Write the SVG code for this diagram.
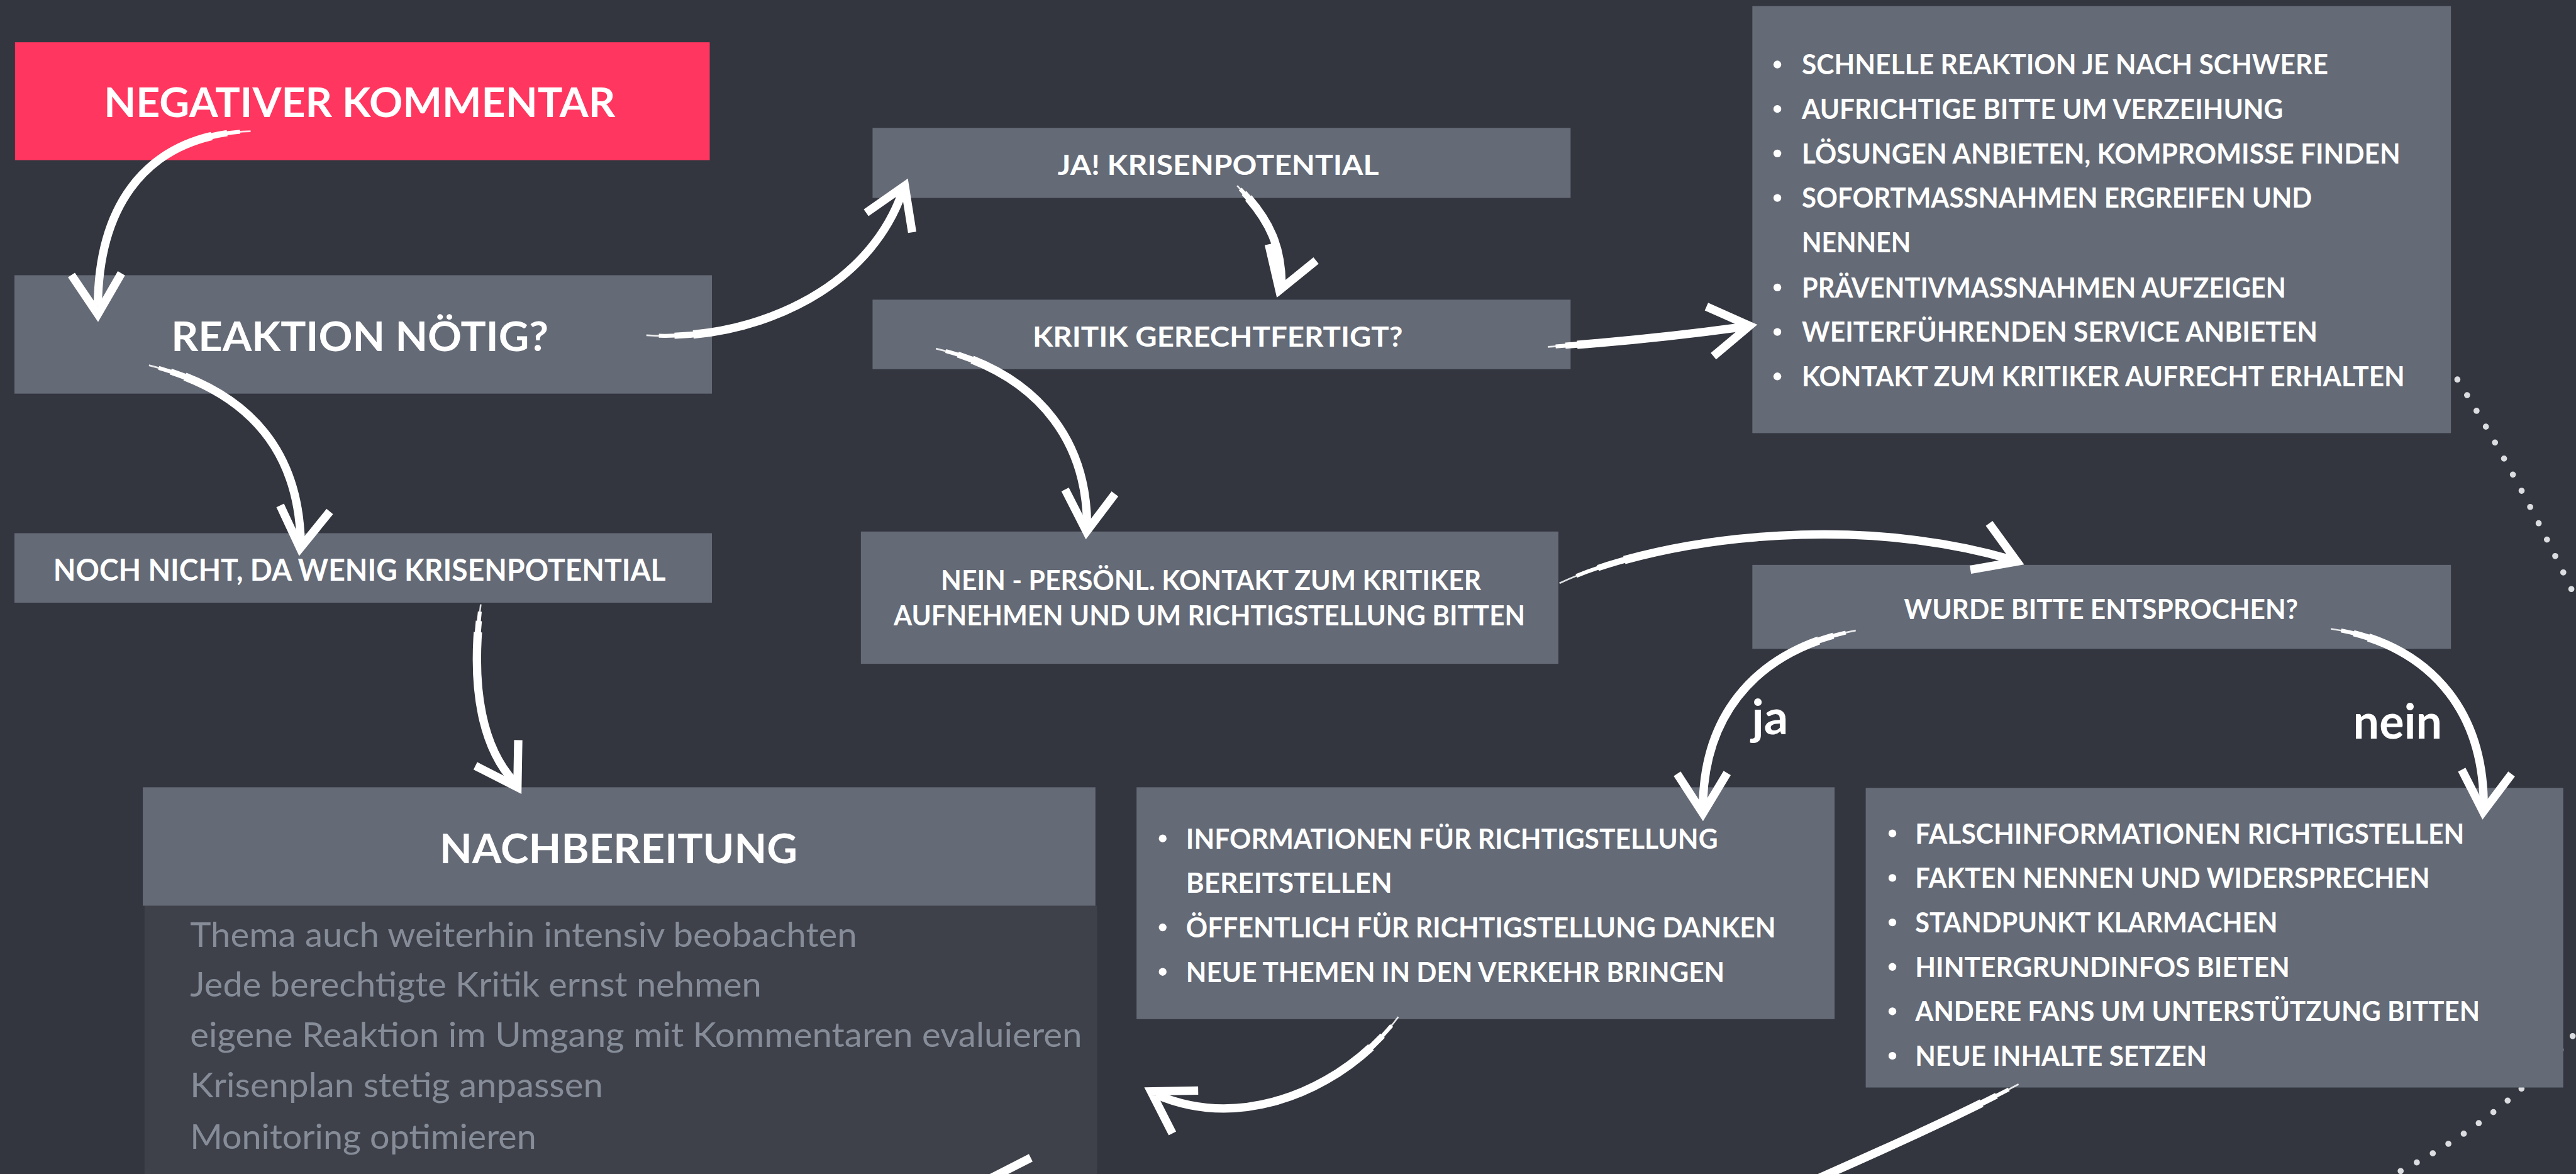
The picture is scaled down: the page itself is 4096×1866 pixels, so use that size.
<svg xmlns="http://www.w3.org/2000/svg" xmlns:xlink="http://www.w3.org/1999/xlink" width="4096" height="1866" viewBox="0 0 4096 1866">
<style>
.bg{fill:#33363f}
.box{fill:#646a76}
.hot{fill:#ff365f}
.well{fill:#3e414a}
text{font-family:Lato,"Liberation Sans",sans-serif}
.h{fill:#fff;font-weight:700}
.h1{font-size:74px}
.h2{font-size:55px}
.h3{font-size:50px}
.li{fill:#fff;font-weight:700;font-size:50px}
.note{fill:#868d99;font-weight:400;font-size:61px}
.dot{fill:#fff}
.lbl{fill:#fff;font-weight:700;font-size:86px}
.brush{fill:none;stroke:#fff;stroke-linecap:butt;stroke-linejoin:round}
.w1{stroke-width:3;opacity:.85}
.w2{stroke-width:7;stroke-dasharray:0 4 96}
.w3{stroke-width:11;stroke-dasharray:0 9 91}
.w4{stroke-width:15;stroke-dasharray:0 15 85}
.tip{fill:none;stroke:#fff;stroke-width:15;stroke-linejoin:miter;stroke-miterlimit:10;stroke-linecap:butt}
.trail{fill:none;stroke:#dcdde0;stroke-width:11;stroke-linecap:round;stroke-dasharray:0 33}
</style>
<defs>
  <!-- brush shafts, drawn several times with growing width to get a tapered start -->
  <g id="shafts">
    <path id="s-neg-reak" pathLength="100" d="M451,236 C300,240 178,330 176,550"/>
    <path id="s-reak-noch" pathLength="100" d="M268,657 C400,690 535,770 541,972"/>
    <path id="s-reak-ja" pathLength="100" d="M1163,603 C1350,615 1560,525 1623,347"/>
    <path id="s-ja-krit" pathLength="100" d="M2226,334 C2275,385 2305,430 2306,510"/>
    <path id="s-krit-nein" pathLength="100" d="M1684,627 C1830,660 1955,760 1956,944"/>
    <path id="s-krit-list" pathLength="100" d="M2785,624 Q2960,612 3136,588"/>
    <path id="s-nein-wurde" pathLength="100" d="M2806,1049 C2950,980 3300,915 3618,1006"/>
    <path id="s-wurde-info" pathLength="100" d="M3339,1134 C3200,1160 3066,1250 3064,1451"/>
    <path id="s-wurde-falsch" pathLength="100" d="M4194,1131 C4330,1150 4468,1240 4469,1448"/>
    <path id="s-info-nach" pathLength="100" d="M2516,1829 C2430,1945 2250,2040 2081,1969"/>
    <path id="s-falsch-out" pathLength="100" d="M3632,1950 C3520,2010 3350,2085 3180,2160"/>
    <path id="s-noch-nach" pathLength="100" d="M865,1087 C850,1200 855,1330 925,1406"/>
  </g>
  <path id="head" d="M-45,-72 L0,0 L45,-72"/>
</defs>

<rect class="bg" x="0" y="0" width="4096" height="1866"/>

<g transform="scale(0.88371)">

  <!-- dotted guide on the right edge -->
  <g id="trail">
    <path class="trail" d="M4404,655 Q4530,850 4660,1130"/>
    <path class="trail" d="M4650,1838 Q4511,2013 4300,2116"/>
  </g>

  <g id="n-negativ">
    <rect class="hot" x="27" y="76" width="1250" height="212"/>
    <text class="h h1" x="187" y="210" textLength="920" lengthAdjust="spacingAndGlyphs">NEGATIVER KOMMENTAR</text>
  </g>

  <g id="n-reaktion">
    <rect class="box" x="26" y="495" width="1255" height="213"/>
    <text class="h h1" x="308" y="631" textLength="679" lengthAdjust="spacingAndGlyphs">REAKTION NÖTIG?</text>
  </g>

  <g id="n-noch-nicht">
    <rect class="box" x="26" y="959" width="1255" height="125"/>
    <text class="h h2" x="96" y="1044" textLength="1102" lengthAdjust="spacingAndGlyphs">NOCH NICHT, DA WENIG KRISENPOTENTIAL</text>
  </g>

  <g id="n-ja">
    <rect class="box" x="1570" y="230" width="1256" height="126"/>
    <text class="h h3" x="1903" y="315" textLength="578" lengthAdjust="spacingAndGlyphs">JA! KRISENPOTENTIAL</text>
  </g>

  <g id="n-kritik">
    <rect class="box" x="1570" y="539" width="1256" height="125"/>
    <text class="h h3" x="1858" y="624" textLength="666" lengthAdjust="spacingAndGlyphs">KRITIK GERECHTFERTIGT?</text>
  </g>

  <g id="n-nein">
    <rect class="box" x="1549" y="956" width="1255" height="238"/>
    <text class="h h3" x="1693" y="1061" textLength="972" lengthAdjust="spacingAndGlyphs">NEIN - PERSÖNL. KONTAKT ZUM KRITIKER</text>
    <text class="h h3" x="1608" y="1125" textLength="1136" lengthAdjust="spacingAndGlyphs">AUFNEHMEN UND UM RICHTIGSTELLUNG BITTEN</text>
  </g>

  <g id="n-massnahmen">
    <rect class="box" x="3153" y="11" width="1257" height="768"/>
    <circle class="dot" cx="3198" cy="116" r="7"/>
    <circle class="dot" cx="3198" cy="196" r="7"/>
    <circle class="dot" cx="3198" cy="276" r="7"/>
    <circle class="dot" cx="3198" cy="356" r="7"/>
    <circle class="dot" cx="3198" cy="517" r="7"/>
    <circle class="dot" cx="3198" cy="597" r="7"/>
    <circle class="dot" cx="3198" cy="677" r="7"/>
    <text class="li" x="3242" y="134" textLength="947" lengthAdjust="spacingAndGlyphs">SCHNELLE REAKTION JE NACH SCHWERE</text>
    <text class="li" x="3242" y="214" textLength="866" lengthAdjust="spacingAndGlyphs">AUFRICHTIGE BITTE UM VERZEIHUNG</text>
    <text class="li" x="3242" y="294" textLength="1077" lengthAdjust="spacingAndGlyphs">LÖSUNGEN ANBIETEN, KOMPROMISSE FINDEN</text>
    <text class="li" x="3242" y="374" textLength="918" lengthAdjust="spacingAndGlyphs">SOFORTMASSNAHMEN ERGREIFEN UND</text>
    <text class="li" x="3242" y="454" textLength="196" lengthAdjust="spacingAndGlyphs">NENNEN</text>
    <text class="li" x="3242" y="535" textLength="871" lengthAdjust="spacingAndGlyphs">PRÄVENTIVMASSNAHMEN AUFZEIGEN</text>
    <text class="li" x="3242" y="615" textLength="928" lengthAdjust="spacingAndGlyphs">WEITERFÜHRENDEN SERVICE ANBIETEN</text>
    <text class="li" x="3242" y="695" textLength="1085" lengthAdjust="spacingAndGlyphs">KONTAKT ZUM KRITIKER AUFRECHT ERHALTEN</text>
  </g>

  <g id="n-wurde">
    <rect class="box" x="3153" y="1016" width="1257" height="151"/>
    <text class="h h3" x="3426" y="1113" textLength="709" lengthAdjust="spacingAndGlyphs">WURDE BITTE ENTSPROCHEN?</text>
  </g>

  <g id="n-nachbereitung">
    <rect class="well" x="260" y="1629" width="1714" height="500"/>
    <rect class="box" x="257" y="1416" width="1714" height="213"/>
    <text class="h h1" x="791" y="1552" textLength="644" lengthAdjust="spacingAndGlyphs">NACHBEREITUNG</text>
    <text class="note" x="342" y="1703" textLength="1200" lengthAdjust="spacingAndGlyphs">Thema auch weiterhin intensiv beobachten</text>
    <text class="note" x="342" y="1793" textLength="1028" lengthAdjust="spacingAndGlyphs">Jede berechtigte Kritik ernst nehmen</text>
    <text class="note" x="342" y="1883" textLength="1605" lengthAdjust="spacingAndGlyphs">eigene Reaktion im Umgang mit Kommentaren evaluieren</text>
    <text class="note" x="342" y="1974" textLength="743" lengthAdjust="spacingAndGlyphs">Krisenplan stetig anpassen</text>
    <text class="note" x="342" y="2066" textLength="623" lengthAdjust="spacingAndGlyphs">Monitoring optimieren</text>
  </g>

  <g id="n-informationen">
    <rect class="box" x="2045" y="1416" width="1256" height="417"/>
    <circle class="dot" cx="2092" cy="1508" r="7"/>
    <circle class="dot" cx="2092" cy="1668" r="7"/>
    <circle class="dot" cx="2092" cy="1748" r="7"/>
    <text class="li" x="2134" y="1526" textLength="957" lengthAdjust="spacingAndGlyphs">INFORMATIONEN FÜR RICHTIGSTELLUNG</text>
    <text class="li" x="2134" y="1606" textLength="371" lengthAdjust="spacingAndGlyphs">BEREITSTELLEN</text>
    <text class="li" x="2134" y="1686" textLength="1061" lengthAdjust="spacingAndGlyphs">ÖFFENTLICH FÜR RICHTIGSTELLUNG DANKEN</text>
    <text class="li" x="2134" y="1766" textLength="969" lengthAdjust="spacingAndGlyphs">NEUE THEMEN IN DEN VERKEHR BRINGEN</text>
  </g>

  <g id="n-falschinfo">
    <rect class="box" x="3357" y="1417" width="1255" height="539"/>
    <circle class="dot" cx="3405" cy="1499" r="7"/>
    <circle class="dot" cx="3405" cy="1579" r="7"/>
    <circle class="dot" cx="3405" cy="1659" r="7"/>
    <circle class="dot" cx="3405" cy="1739" r="7"/>
    <circle class="dot" cx="3405" cy="1819" r="7"/>
    <circle class="dot" cx="3405" cy="1899" r="7"/>
    <text class="li" x="3446" y="1517" textLength="988" lengthAdjust="spacingAndGlyphs">FALSCHINFORMATIONEN RICHTIGSTELLEN</text>
    <text class="li" x="3446" y="1597" textLength="926" lengthAdjust="spacingAndGlyphs">FAKTEN NENNEN UND WIDERSPRECHEN</text>
    <text class="li" x="3446" y="1677" textLength="652" lengthAdjust="spacingAndGlyphs">STANDPUNKT KLARMACHEN</text>
    <text class="li" x="3446" y="1757" textLength="674" lengthAdjust="spacingAndGlyphs">HINTERGRUNDINFOS BIETEN</text>
    <text class="li" x="3446" y="1837" textLength="1016" lengthAdjust="spacingAndGlyphs">ANDERE FANS UM UNTERSTÜTZUNG BITTEN</text>
    <text class="li" x="3446" y="1917" textLength="525" lengthAdjust="spacingAndGlyphs">NEUE INHALTE SETZEN</text>
  </g>

  <!-- hand-drawn connectors -->
  <g id="connectors">
    <g class="brush">
      <use href="#shafts" class="w1"/>
      <use href="#shafts" class="w2"/>
      <use href="#shafts" class="w3"/>
      <use href="#shafts" class="w4"/>
    </g>
    <g id="heads">
      <use href="#head" class="tip" transform="translate(176,565) rotate(-2)"/>
      <use href="#head" class="tip" transform="translate(540,986) rotate(7)"/>
      <use href="#head" class="tip" transform="translate(1628,334) rotate(203)"/>
      <use href="#head" class="tip" transform="translate(2302,522) rotate(19)"/>
      <use href="#head" class="tip" transform="translate(1955,956) rotate(5)"/>
      <use href="#head" class="tip" transform="translate(3148,586) rotate(-98)"/>
      <use href="#head" class="tip" transform="translate(3629,1010) rotate(-68)"/>
      <use href="#head" class="tip" transform="translate(3064,1463) rotate(-1)"/>
      <use href="#head" class="tip" transform="translate(4468,1460) rotate(5)"/>
      <use href="#head" class="tip" transform="translate(2071,1963) rotate(121)"/>
      <use href="#head" class="tip" transform="translate(1779,2121) rotate(95)"/>
      <use href="#head" class="tip" transform="translate(931,1416) rotate(-31)"/>
    </g>
    <g id="edge-labels">
      <text class="lbl" x="3152" y="1321">ja</text>
      <text class="lbl" x="4234" y="1328" textLength="160" lengthAdjust="spacingAndGlyphs">nein</text>
    </g>
  </g>

</g>
</svg>
